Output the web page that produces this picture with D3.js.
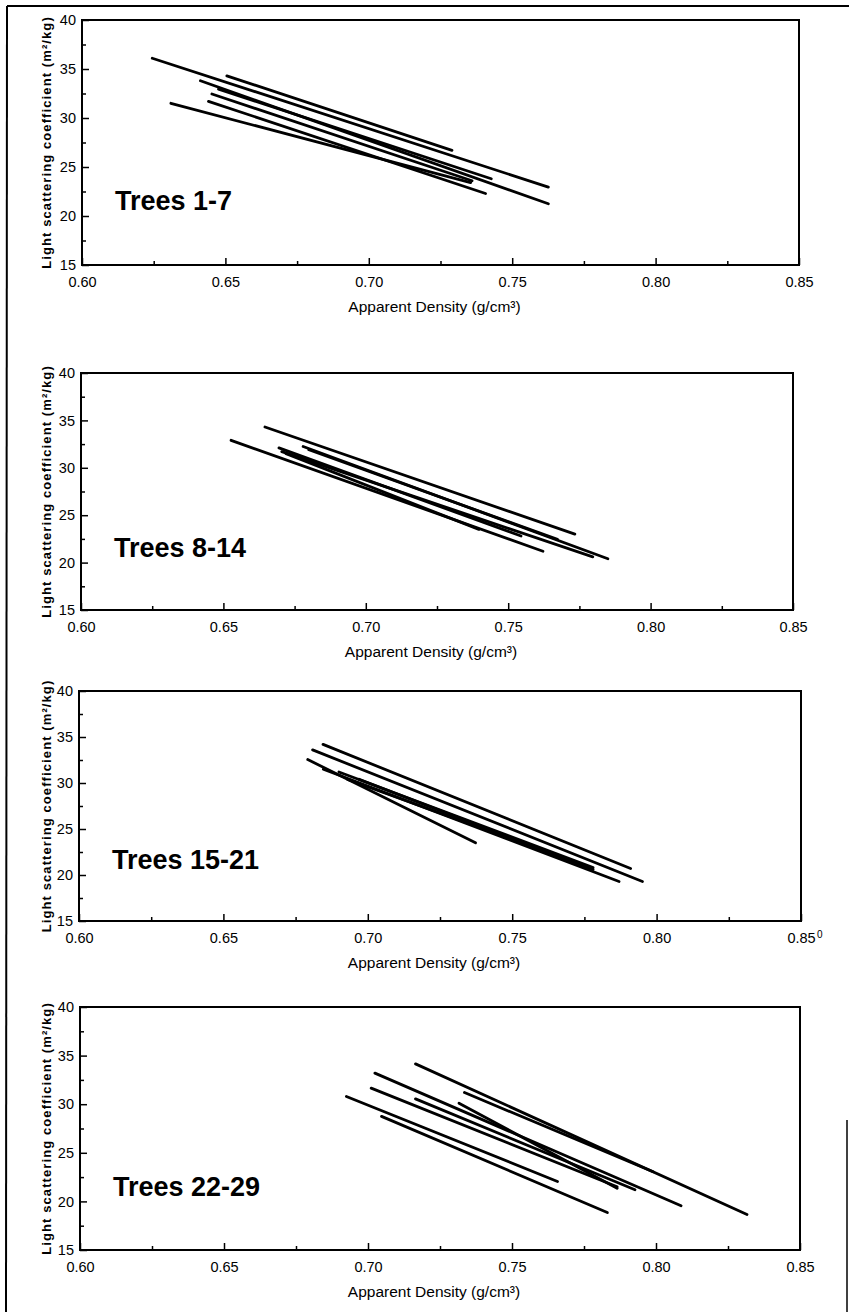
<!DOCTYPE html>
<html>
<head>
<meta charset="utf-8">
<script src="https://cdn.jsdelivr.net/npm/d3@7"></script>
<style>
  body { margin: 0; background: #fff; }
  svg { display: block; }
</style>
</head>
<body>
<svg id="viz"></svg>
<script>
// panel names and axis ticks
var panelNames = ['Trees 1-7', 'Trees 8-14', 'Trees 15-21', 'Trees 22-29'];
var densityTicks = [0.6, 0.65, 0.7, 0.75, 0.8, 0.85];
var densityMinor = [0.625, 0.675, 0.725, 0.775, 0.825];
var scatterTicks = [15, 20, 25, 30, 35, 40];
var scatterMinor = [17.5, 22.5, 27.5, 32.5, 37.5];

// one row per tree: [density start, coefficient start, density end, coefficient end]
var trees1to7 = [
  [0.6245, 36.1, 0.7626, 22.95],
  [0.6505, 34.3, 0.729, 26.7],
  [0.6413, 33.8, 0.7626, 21.25],
  [0.6476, 32.95, 0.7427, 23.8],
  [0.6453, 32.45, 0.736, 23.6],
  [0.6441, 31.7, 0.7407, 22.3],
  [0.631, 31.5, 0.7355, 23.4]
];
var trees8to14 = [
  [0.6646, 34.3, 0.7734, 23.0],
  [0.6527, 32.9, 0.7622, 21.2],
  [0.6695, 32.1, 0.7545, 22.8],
  [0.678, 32.25, 0.785, 20.4],
  [0.6705, 31.7, 0.7797, 20.6],
  [0.672, 31.5, 0.7397, 23.5],
  [0.68, 31.9, 0.7673, 22.45]
];
var trees15to21 = [
  [0.6845, 34.2, 0.791, 20.7],
  [0.6809, 33.6, 0.7951, 19.3],
  [0.6792, 32.55, 0.7373, 23.5],
  [0.6846, 31.5, 0.787, 19.3],
  [0.690, 31.2, 0.778, 20.8],
  [0.693, 30.4, 0.776, 20.9],
  [0.697, 30.4, 0.778, 20.6]
];
var trees22to29 = [
  [0.7165, 34.15, 0.8316, 18.65],
  [0.7335, 31.2, 0.799, 23.05],
  [0.7024, 33.2, 0.8087, 19.55],
  [0.7011, 31.65, 0.7865, 21.5],
  [0.7165, 30.55, 0.7927, 21.2],
  [0.7316, 30.1, 0.7865, 21.35],
  [0.6925, 30.8, 0.7658, 22.05],
  [0.7047, 28.75, 0.7831, 18.85]
];
var allTrees = [trees1to7, trees8to14, trees15to21, trees22to29];

var width = 849;
var height = 1312;

// plot boxes as they sit on the scanned page: left, right, top, bottom
var frames = [
  [82, 799, 20, 265],
  [81, 793, 373, 610],
  [79, 801, 691, 921],
  [80, 800, 1007, 1250]
];

var svg = d3.select('#viz').attr('width', width).attr('height', height);

// page border of the scan
svg.append('line').attr('x1', 7).attr('y1', 6).attr('x2', width).attr('y2', 6)
  .attr('stroke', 'black').style('stroke-width', '2px');
svg.append('line').attr('x1', 7).attr('y1', 6).attr('x2', 6).attr('y2', height)
  .attr('stroke', 'black').style('stroke-width', '2px');
svg.append('line').attr('x1', 847).attr('y1', 1120).attr('x2', 847).attr('y2', height)
  .attr('stroke', 'black').style('stroke-width', '1.5px');

panelNames.forEach(function (name, i) {
  var f = frames[i];
  var x = d3.scaleLinear().domain([0.6, 0.85]).range([f[0], f[1]]);
  var y = d3.scaleLinear().domain([15, 40]).range([f[3], f[2]]);
  var g = svg.append('g');

  // minor ticks first, no labels
  g.append('g')
    .attr('transform', 'translate(0,' + f[3] + ')')
    .call(d3.axisBottom(x).tickValues(densityMinor).tickSize(-4).tickFormat(''))
    .call(function (a) { a.select('.domain').remove(); });
  g.append('g')
    .attr('transform', 'translate(' + f[0] + ',0)')
    .call(d3.axisLeft(y).tickValues(scatterMinor).tickSize(-4).tickFormat(''))
    .call(function (a) { a.select('.domain').remove(); });

  var xAxis = g.append('g')
    .attr('transform', 'translate(0,' + f[3] + ')')
    .call(d3.axisBottom(x).tickValues(densityTicks).tickSize(-7).tickPadding(12)
      .tickFormat(d3.format('.2f')));
  xAxis.select('.domain').remove();

  var yAxis = g.append('g')
    .attr('transform', 'translate(' + f[0] + ',0)')
    .call(d3.axisLeft(y).tickValues(scatterTicks).tickSize(-7).tickPadding(6));
  yAxis.select('.domain').remove();

  g.selectAll('.tick line').attr('stroke', 'black').style('stroke-width', '1.5px');
  g.selectAll('.tick text')
    .style('font-family', 'Liberation Sans, Arial, sans-serif')
    .style('font-size', '14.5px')
    .attr('fill', 'black');

  // plot frame
  g.append('rect')
    .attr('x', f[0]).attr('y', f[2])
    .attr('width', f[1] - f[0]).attr('height', f[3] - f[2])
    .attr('fill', 'none').attr('stroke', 'black').style('stroke-width', '2px');

  // regression lines
  g.selectAll('line.tree')
    .data(allTrees[i])
    .join('line')
    .attr('class', 'tree')
    .attr('x1', function (d) { return x(d[0]); })
    .attr('y1', function (d) { return y(d[1]); })
    .attr('x2', function (d) { return x(d[2]); })
    .attr('y2', function (d) { return y(d[3]); })
    .attr('stroke', 'black')
    .attr('stroke-linecap', 'round')
    .style('stroke-width', '2.8px');

  g.append('text')
    .attr('x', f[0] + 33)
    .attr('y', y(20.6))
    .text(name)
    .style('font-family', 'Liberation Sans, Arial, sans-serif')
    .style('font-weight', 'bold')
    .style('font-size', '27px');

  g.append('text')
    .attr('x', (f[0] + f[1]) / 2 - 6)
    .attr('y', f[3] + 47)
    .attr('text-anchor', 'middle')
    .text('Apparent Density (g/cm\u00b3)')
    .style('font-family', 'Liberation Sans, Arial, sans-serif')
    .style('font-size', '15.5px');

  g.append('text')
    .attr('transform', 'translate(' + 51 + ',' + (f[2] + f[3]) / 2 + ') rotate(-90)')
    .attr('text-anchor', 'middle')
    .text('Light scattering coefficient (m\u00b2/kg)')
    .style('font-family', 'Liberation Sans, Arial, sans-serif')
    .style('font-weight', 'bold')
    .style('font-size', '13px')
    .style('letter-spacing', '1.1px');

  // stray superscript next to the last tick of the third panel
  if (i == 2) {
    g.append('text')
      .attr('x', x(0.85) + 16)
      .attr('y', f[3] + 17)
      .text('0')
      .style('font-family', 'Liberation Sans, Arial, sans-serif')
      .style('font-size', '10px');
  }
});
</script>
</body>
</html>
